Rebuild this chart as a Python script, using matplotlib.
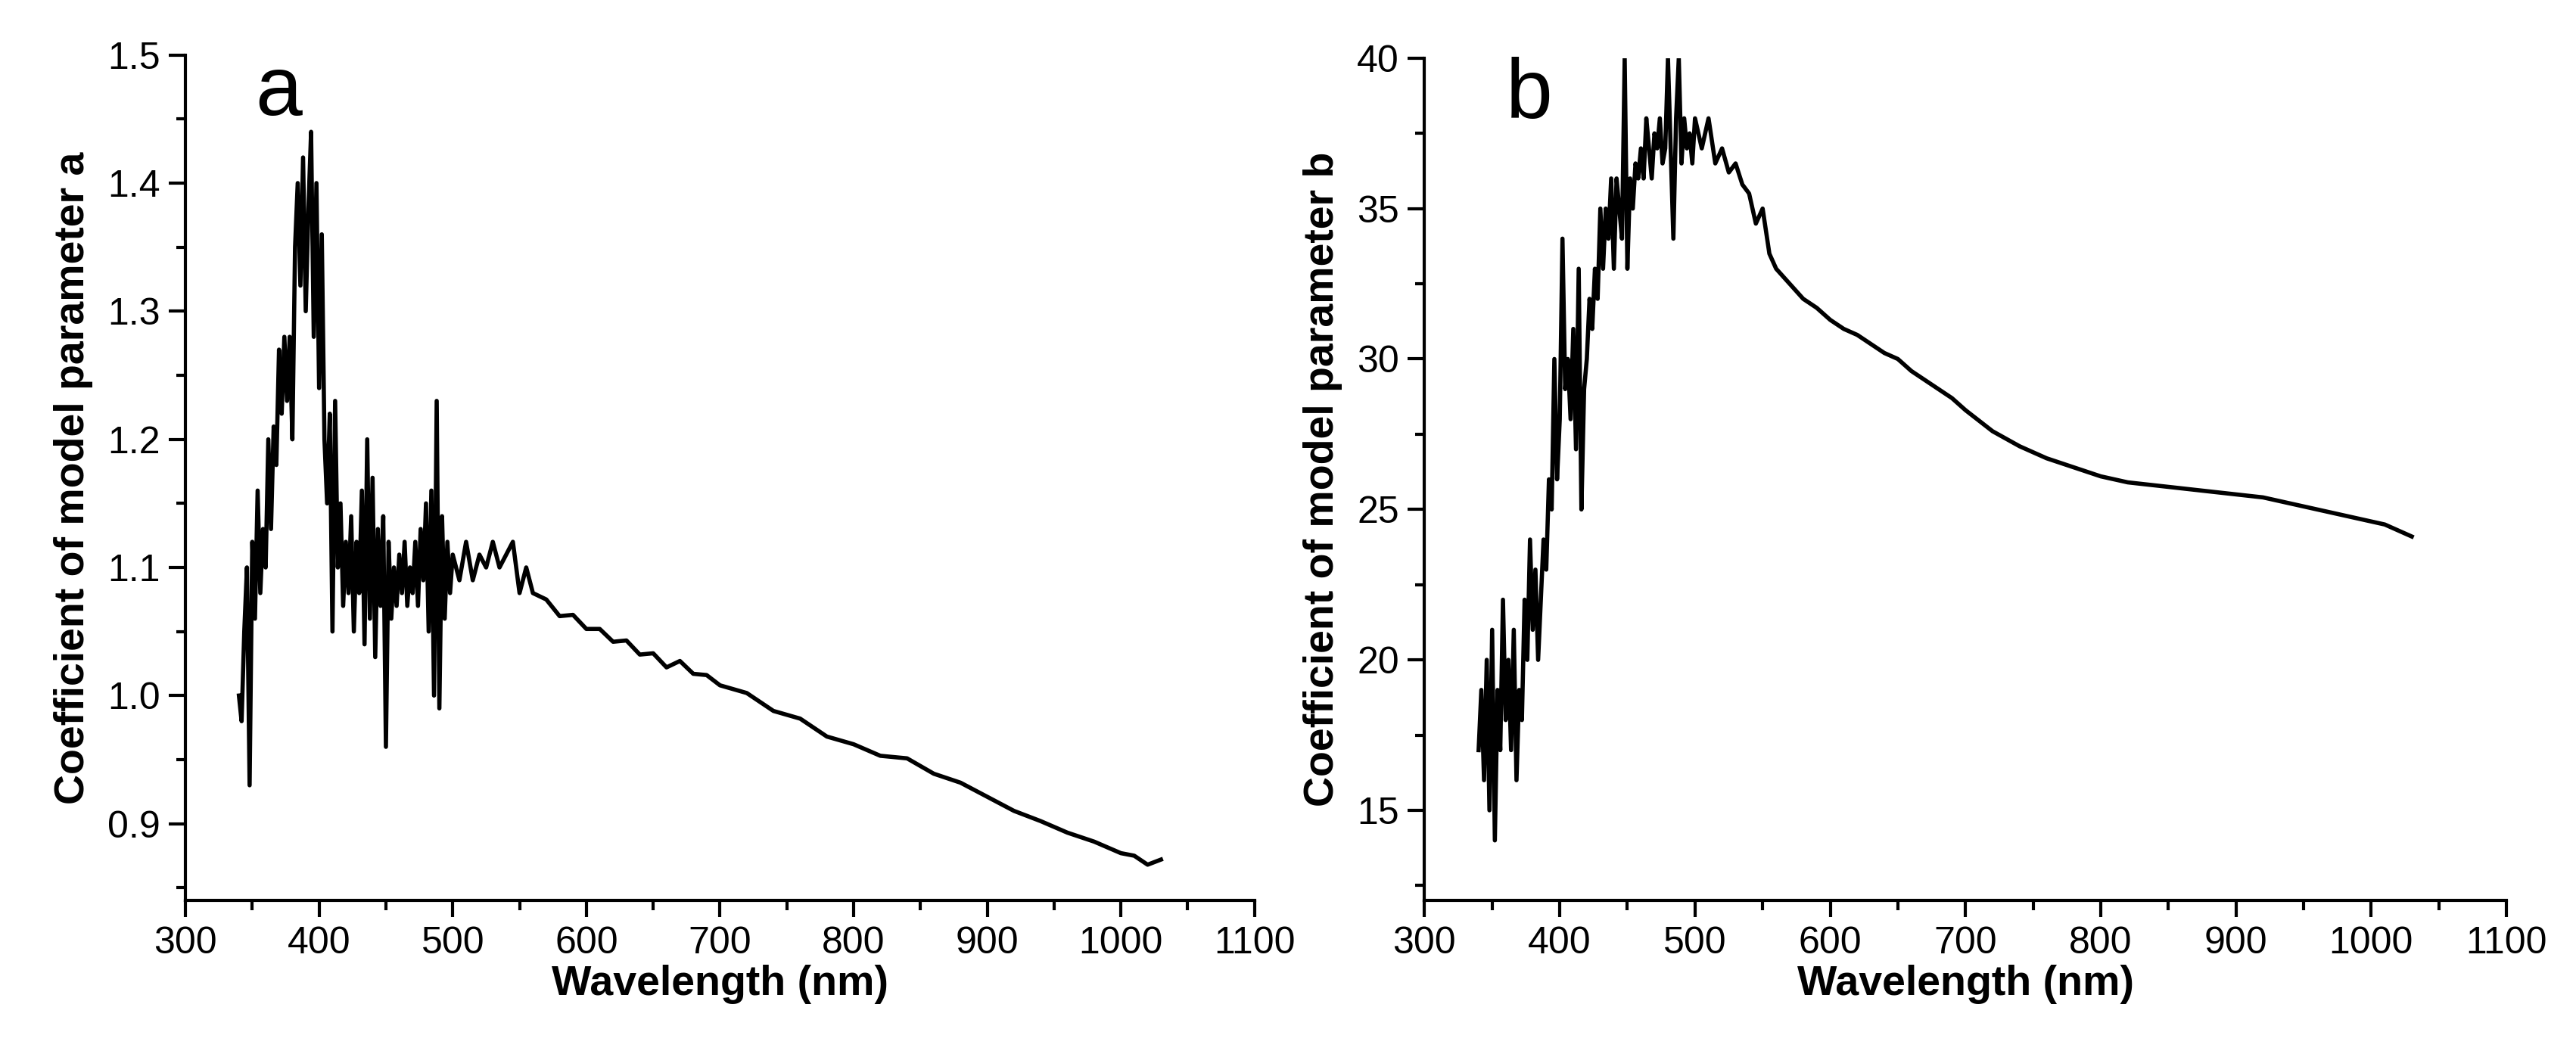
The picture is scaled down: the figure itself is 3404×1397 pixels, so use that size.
import matplotlib.pyplot as plt
from matplotlib.ticker import MultipleLocator

# -- Data -----------------------------------------------------------------
wl_a = [340, 342, 344, 346, 348, 350, 352, 354, 356, 358, 360, 362, 364, 366, 368, 370,
        372, 374, 376, 378, 380, 382, 384, 386, 388, 390, 392, 394, 396, 398, 400, 402,
        404, 406, 408, 410, 412, 414, 416, 418, 420, 422, 424, 426, 428, 430, 432, 434,
        436, 438, 440, 442, 444, 446, 448, 450, 452, 454, 456, 458, 460, 462, 464, 466,
        468, 470, 472, 474, 476, 478, 480, 482, 484, 486, 488, 490, 492, 494, 496, 498,
        500, 505, 510, 515, 520, 525, 530, 535, 540, 545, 550, 555, 560, 570, 580, 590,
        600, 610, 620, 630, 640, 650, 660, 670, 680, 690, 700, 720, 740, 760, 780, 800,
        820, 840, 860, 880, 900, 920, 940, 960, 980, 1000, 1010, 1020, 1030]
coef_a = [1.00, 0.98, 1.05, 1.10, 0.93, 1.12, 1.06, 1.16, 1.08, 1.13, 1.10, 1.20, 1.13, 1.21,
          1.18, 1.27, 1.22, 1.28, 1.23, 1.28, 1.20, 1.35, 1.40, 1.32, 1.42, 1.30, 1.38, 1.44,
          1.28, 1.40, 1.24, 1.36, 1.20, 1.15, 1.22, 1.05, 1.23, 1.10, 1.15, 1.07, 1.12, 1.08,
          1.14, 1.05, 1.12, 1.08, 1.16, 1.04, 1.20, 1.06, 1.17, 1.03, 1.13, 1.07, 1.14, 0.96,
          1.12, 1.06, 1.10, 1.07, 1.11, 1.08, 1.12, 1.07, 1.10, 1.08, 1.12, 1.07, 1.13, 1.09,
          1.15, 1.05, 1.16, 1.00, 1.23, 0.99, 1.14, 1.06, 1.12, 1.08, 1.11, 1.09, 1.12, 1.09,
          1.11, 1.10, 1.12, 1.10, 1.11, 1.12, 1.08, 1.10, 1.08, 1.075, 1.062, 1.063, 1.052,
          1.052, 1.042, 1.043, 1.032, 1.033, 1.022, 1.027, 1.017, 1.016, 1.008, 1.002, 0.988,
          0.982, 0.968, 0.962, 0.953, 0.951, 0.939, 0.932, 0.921, 0.910, 0.902, 0.893, 0.886,
          0.877, 0.875, 0.868, 0.872]

wl_b = [340, 342, 344, 346, 348, 350, 352, 354, 356, 358, 360, 362, 364, 366, 368, 370,
        372, 374, 376, 378, 380, 382, 384, 386, 388, 390, 392, 394, 396, 398, 400, 402,
        404, 406, 408, 410, 412, 414, 416, 418, 420, 422, 424, 426, 428, 430, 432, 434,
        436, 438, 440, 442, 444, 446, 448, 450, 452, 454, 456, 458, 460, 462, 464, 466,
        468, 470, 472, 474, 476, 478, 480, 482, 484, 486, 488, 490, 492, 494, 496, 498,
        500, 505, 510, 515, 520, 525, 530, 535, 540, 545, 550, 555, 560, 570, 580, 590,
        600, 610, 620, 630, 640, 650, 660, 670, 680, 690, 700, 720, 740, 760, 780, 800,
        820, 840, 860, 880, 900, 920, 940, 960, 980, 1000, 1010, 1020, 1030]
coef_b = [17, 19, 16, 20, 15, 21, 14, 19, 17, 22, 18, 20, 17, 21, 16, 19, 18, 22, 20, 24,
          21, 23, 20, 22, 24, 23, 26, 25, 30, 26, 28, 34, 29, 30, 28, 31, 27, 33, 25, 29,
          30, 32, 31, 33, 32, 35, 33, 35, 34, 36, 33, 36, 35, 34, 40, 33, 36, 35, 36.5, 36,
          37, 36, 38, 37, 36, 37.5, 37, 38, 36.5, 37, 40, 37, 34, 38, 40, 36.5, 38, 37, 37.5,
          36.5, 38, 37, 38, 36.5, 37, 36.2, 36.5, 35.8, 35.5, 34.5, 35, 33.5, 33, 32.5, 32,
          31.7, 31.3, 31, 30.8, 30.5, 30.2, 30, 29.6, 29.3, 29, 28.7, 28.3, 27.6, 27.1, 26.7,
          26.4, 26.1, 25.9, 25.8, 25.7, 25.6, 25.5, 25.4, 25.2, 25.0, 24.8, 24.6, 24.5, 24.3,
          24.1]

plt.rcParams["font.family"] = ["Liberation Sans", "DejaVu Sans"]

fig = plt.figure(figsize=(34.04, 13.97), dpi=100)
ax_a = fig.add_axes([0.072, 0.148, 0.415, 0.80])
ax_b = fig.add_axes([0.553, 0.148, 0.42, 0.797])


def style(ax, ylabel, ymajor, yminor):
    for s in ["top", "right"]:
        ax.spines[s].set_visible(False)
    for s in ["left", "bottom"]:
        ax.spines[s].set_linewidth(3)
    ax.set_xlim(300, 1100)
    ax.xaxis.set_major_locator(MultipleLocator(100))
    ax.xaxis.set_minor_locator(MultipleLocator(50))
    ax.yaxis.set_major_locator(MultipleLocator(ymajor))
    ax.yaxis.set_minor_locator(MultipleLocator(yminor))
    ax.tick_params(which="major", length=16, width=3, labelsize=36, pad=8)
    ax.tick_params(which="minor", length=9, width=3)
    ax.set_xlabel("Wavelength (nm)", fontsize=40, fontweight="bold", labelpad=4)
    ax.set_ylabel(ylabel, fontsize=40, fontweight="bold", labelpad=14)


ax_a.plot(wl_a, coef_a, color="black", lw=4)
style(ax_a, "Coefficient of model parameter a", 0.1, 0.05)
ax_a.set_ylim(0.84, 1.5)
ax_a.text(0.065, 0.955, "a", transform=ax_a.transAxes, fontsize=80, va="center")

ax_b.plot(wl_b, coef_b, color="black", lw=4)
style(ax_b, "Coefficient of model parameter b", 5, 2.5)
ax_b.set_ylim(12, 40)
ax_b.text(0.075, 0.955, "b", transform=ax_b.transAxes, fontsize=80, va="center")

fig.savefig("out.png", dpi=100)
